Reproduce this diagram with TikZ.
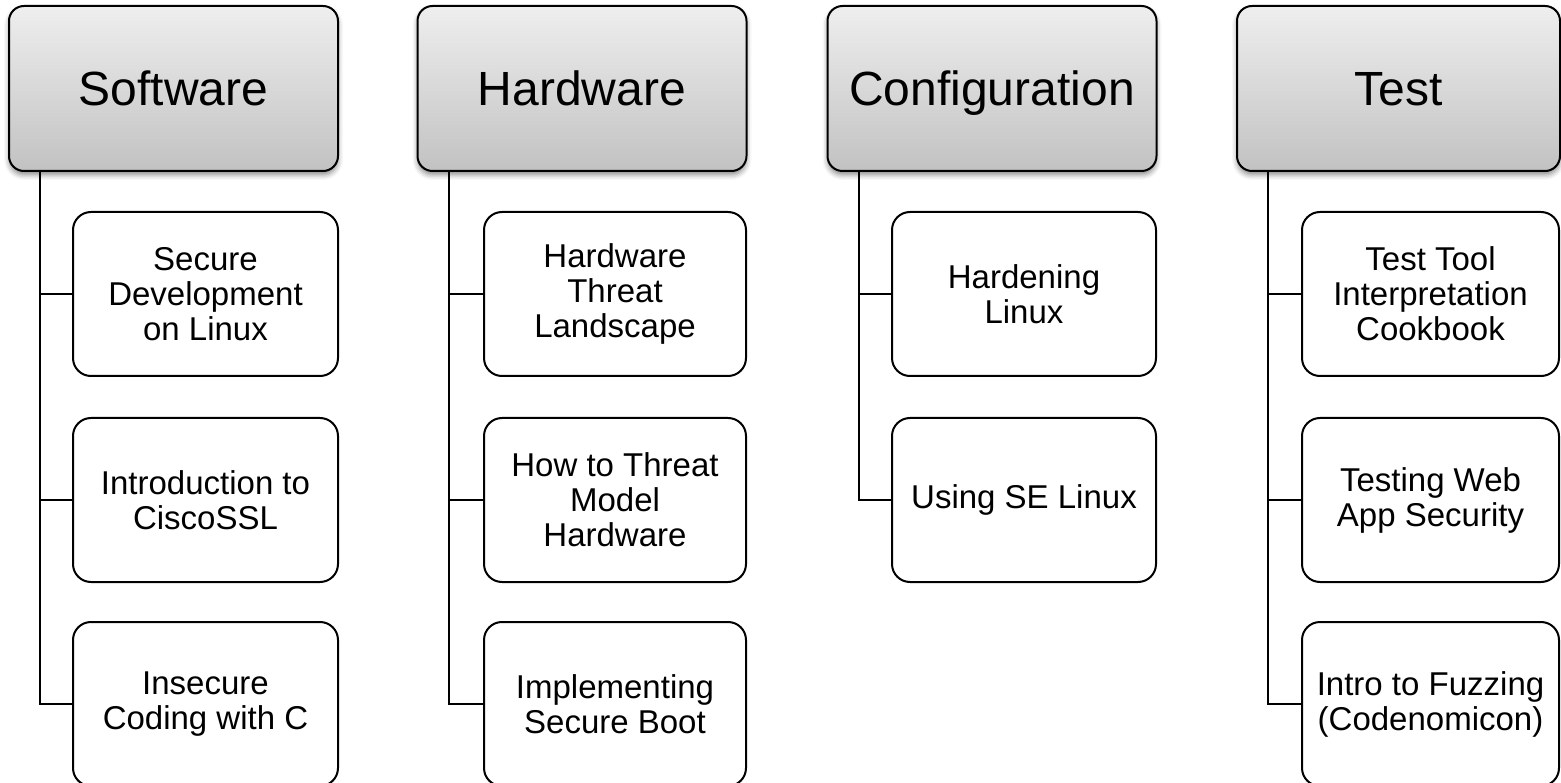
\documentclass[tikz,border=0pt]{standalone}
\usepackage{fontspec}
\setmainfont{Liberation Sans}
\usetikzlibrary{shadows.blur}
\begin{document}
\begin{tikzpicture}[x=1pt,y=-1pt,
  header/.style={draw=black, line width=2pt, rounded corners=15pt,
    top color=gray!13, bottom color=gray!48,
    minimum width=329pt, minimum height=165pt, inner sep=0pt,
    text height=34.5pt, text depth=0pt,
    font=\fontsize{48}{55}\selectfont,
    blur shadow={shadow xshift=0pt, shadow yshift=-4pt, shadow blur radius=5pt, shadow opacity=45}},
  topic/.style={draw=black, line width=2pt, rounded corners=18pt, fill=white,
    minimum width=265pt, minimum height=164pt, inner sep=2pt, align=center,
    font=\fontsize{33}{35}\selectfont},
  link/.style={draw=black, line width=2pt}]
\useasboundingbox (0,0) rectangle (1561,783);

% column headers
\node[header] (sw)  at (173.5,88.5) {Software};
\node[header] (hw)  at (582,88.5)   {Hardware};
\node[header] (cfg) at (992,88.5)   {Configuration};
\node[header, minimum width=323pt] (tst) at (1398.5,88.5) {Test};

% software topics
\node[topic] (sw1) at (205.5,294) {Secure\\Development\\on Linux};
\node[topic] (sw2) at (205.5,500) {Introduction to\\CiscoSSL};
\node[topic] (sw3) at (205.5,704) {Insecure\\Coding with C};

% hardware topics
\node[topic, minimum width=262pt] (hw1) at (615,294) {Hardware\\Threat\\Landscape};
\node[topic, minimum width=262pt] (hw2) at (615,500) {How to Threat\\Model\\Hardware};
\node[topic, minimum width=262pt] (hw3) at (615,704) {Implementing\\Secure Boot};

% configuration topics
\node[topic, minimum width=264pt] (cfg1) at (1024,294) {Hardening\\Linux};
\node[topic, minimum width=264pt] (cfg2) at (1024,500) {Using SE Linux};

% test topics
\node[topic, minimum width=257pt] (tst1) at (1430.5,294) {Test Tool\\Interpretation\\Cookbook};
\node[topic, minimum width=257pt] (tst2) at (1430.5,500) {Testing Web\\App Security};
\node[topic, minimum width=257pt] (tst3) at (1430.5,704) {Intro to Fuzzing\\(Codenomicon)};

% tree connectors
\foreach \h/\c in {sw/sw1, sw/sw2, sw/sw3, hw/hw1, hw/hw2, hw/hw3,
                   cfg/cfg1, cfg/cfg2, tst/tst1, tst/tst2, tst/tst3}
  \draw[link] ([xshift=32pt]\h.south west) |- (\c.west);
\end{tikzpicture}
\end{document}
